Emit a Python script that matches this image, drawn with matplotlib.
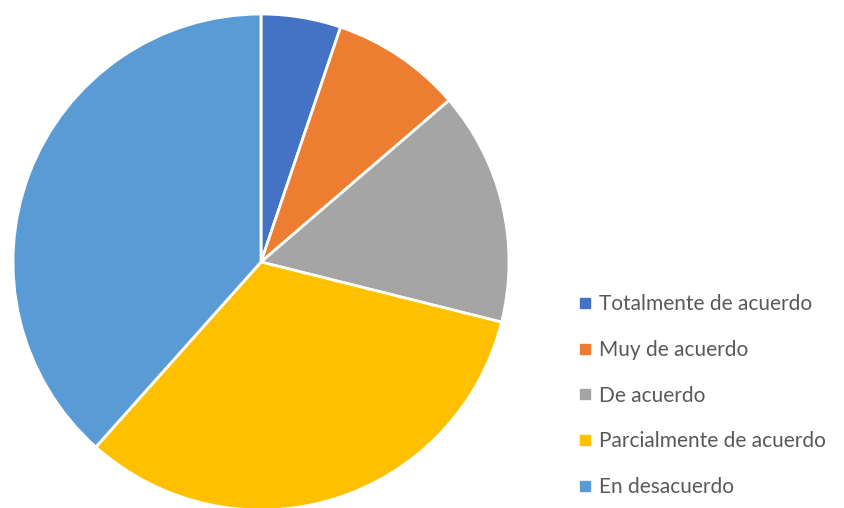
import matplotlib.pyplot as plt
from matplotlib.lines import Line2D

labels = ["Totalmente de acuerdo", "Muy de acuerdo", "De acuerdo",
          "Parcialmente de acuerdo", "En desacuerdo"]
values = [5.2, 8.5, 15.2, 32.7, 38.4]
colors = ["#4472C4", "#ED7D31", "#A5A5A5", "#FFC000", "#5B9BD5"]

fig = plt.figure(figsize=(8.45, 5.08), dpi=100)
ax = fig.add_axes([0, 0, 1, 1])

# pie in pixel-like coordinates
ax.pie(values, colors=colors, startangle=90, counterclock=False,
       center=(261, 508 - 262), radius=248,
       wedgeprops=dict(edgecolor="white", linewidth=2))
ax.set_xlim(0, 845)
ax.set_ylim(0, 508)
ax.set_aspect("auto")
ax.axis("off")

handles = [Line2D([], [], marker="s", linestyle="none", markersize=7,
                  markerfacecolor=c, markeredgecolor=c) for c in colors]
ax.legend(handles, labels, loc="upper left", bbox_to_anchor=(571 / 845, 1 - 286 / 508),
          frameon=False, prop={"family": "Lato", "size": 15},
          labelcolor="#595959", handlelength=0.55, handletextpad=0.4,
          labelspacing=1.23, borderaxespad=0)

fig.savefig("out.png", dpi=100)
